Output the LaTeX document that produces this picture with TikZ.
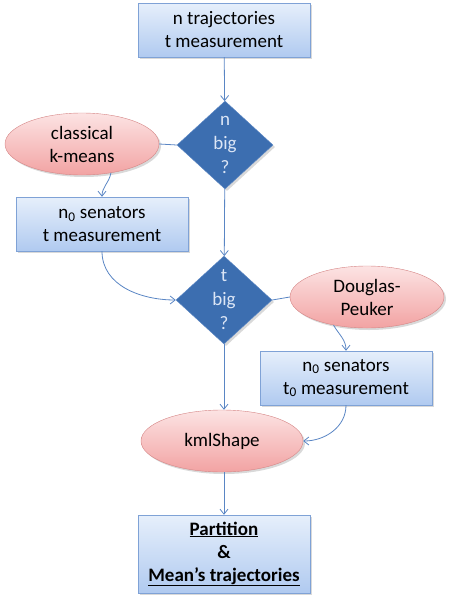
\documentclass[tikz,border=0pt]{standalone}
\usepackage{fontspec}
\setmainfont{Carlito}
\usepackage{tikz}
\usetikzlibrary{shapes.geometric,arrows.meta,shadows}
\definecolor{boxtop}{HTML}{E6EFFB}
\definecolor{boxbot}{HTML}{B0CAF0}
\definecolor{boxline}{HTML}{7FA2D6}
\definecolor{elltop}{HTML}{FCE3E3}
\definecolor{ellbot}{HTML}{F2A3A3}
\definecolor{ellline}{HTML}{D58585}
\definecolor{dia}{HTML}{3C6EB0}
\definecolor{dialine}{HTML}{5D88C6}
\definecolor{diatext}{HTML}{DCE6F6}
\definecolor{link}{HTML}{5A86C4}
\tikzset{
  every node/.style={font=\fontsize{19}{23}\selectfont, align=center},
  box/.style={rectangle, draw=boxline, top color=boxtop, bottom color=boxbot,
    minimum width=172, minimum height=54, inner sep=0pt,
    drop shadow={opacity=0.3, shadow xshift=2pt, shadow yshift=-2pt}},
  oval/.style={ellipse, draw=ellline, top color=elltop, bottom color=ellbot,
    minimum width=154, minimum height=62, inner sep=0pt,
    drop shadow={opacity=0.3, shadow xshift=2pt, shadow yshift=-2pt}},
  test/.style={diamond, draw=dialine, fill=dia, minimum width=96, minimum height=88,
    inner sep=0pt, drop shadow={opacity=0.3, shadow xshift=2pt, shadow yshift=-2pt}},
  dtext/.style={text=diatext, font=\fontsize{19}{24}\selectfont},
  link/.style={draw=link, line width=0.8pt},
  >={Straight Barb[length=5pt,width=8pt]}
}
\begin{document}
\begin{tikzpicture}[x=1pt,y=-1pt]
  \useasboundingbox (0,0) rectangle (449,600);
  \node[box](traj) at (224, 30){n trajectories\\t measurement};
  \node[test, label={[dtext]center:n\\big\\?}](nbig) at (225, 145){};
  \node[oval](kmeans) at (82, 144){classical\\k-means};
  \node[box](sen) at (102, 224){n\textsubscript{0} senators\\t measurement};
  \node[test, label={[dtext]center:t\\big\\?}](tbig) at (224, 300){};
  \node[oval](dp) at (367, 297){Douglas-\\Peuker};
  \node[box](sent) at (346, 378){n\textsubscript{0} senators\\t\textsubscript{0} measurement};
  \node[oval, minimum width=162](kml) at (222, 441){kmlShape};
  \node[box, minimum height=78](part) at (224, 554){\underline{\textbf{Partition}}\\\textbf{\&}\\\underline{\textbf{Mean’s trajectories}}};
  \draw[link,->] (traj)--(nbig);
  \draw[link,->] (nbig)--(tbig);
  \draw[link,->] (tbig)--(tbig|-kml.north);
  \draw[link,->] (kml.south-|part)--(part);
  \draw[link] (nbig.west)--(kmeans.east);
  \draw[link] (tbig.east)--(dp.west);
  \draw[link,->] (kmeans.-45) to[out=-100,in=90] (sen.north);
  \draw[link,->] (sen.south) to[out=-90,in=180] (tbig.west);
  \draw[link,->] (dp.-140) to[out=-60,in=90] (sent.north);
  \draw[link,->] (sent.south) to[out=-90,in=0] (kml.east);
\end{tikzpicture}
\end{document}
